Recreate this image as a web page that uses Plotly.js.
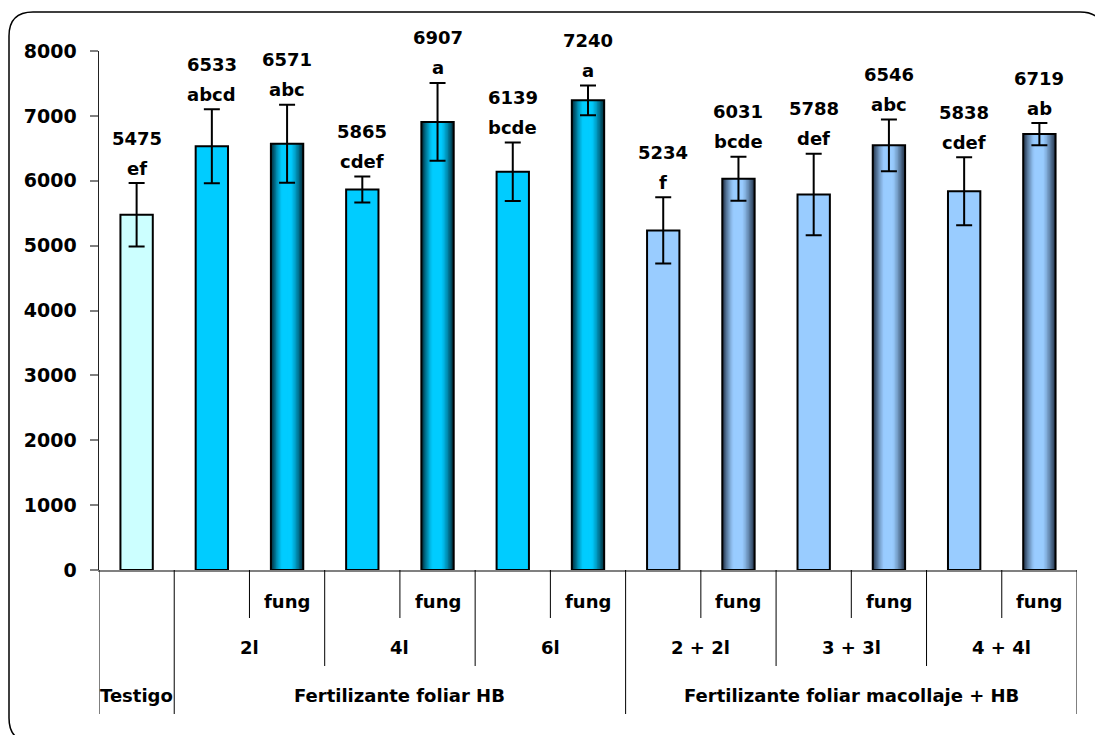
<!DOCTYPE html>
<html>
<head>
<meta charset="utf-8">
<script src="https://cdn.plot.ly/plotly-3.0.1.min.js"></script>
<style>html,body{margin:0;padding:0;background:#fff;}#chart{width:1095px;height:735px;}</style>
</head>
<body>
<div id="chart"></div>
<script>
// ---- data ----
const level1 = ['', '', 'fung', '', 'fung', '', 'fung', '', 'fung', '', 'fung', '', 'fung'];
const level2 = ['', '2l', '2l', '4l', '4l', '6l', '6l', '2 + 2l', '2 + 2l', '3 + 3l', '3 + 3l', '4 + 4l', '4 + 4l'];
const level3 = ['Testigo',
  'Fertilizante foliar HB', 'Fertilizante foliar HB', 'Fertilizante foliar HB',
  'Fertilizante foliar HB', 'Fertilizante foliar HB', 'Fertilizante foliar HB',
  'Fertilizante foliar macollaje + HB', 'Fertilizante foliar macollaje + HB', 'Fertilizante foliar macollaje + HB',
  'Fertilizante foliar macollaje + HB', 'Fertilizante foliar macollaje + HB', 'Fertilizante foliar macollaje + HB'];
const values = [5475, 6533, 6571, 5865, 6907, 6139, 7240, 5234, 6031, 5788, 6546, 5838, 6719];
const errors = [490, 570, 600, 200, 600, 450, 230, 510, 340, 630, 400, 525, 170];
const letters = ['ef', 'abcd', 'abc', 'cdef', 'a', 'bcde', 'a', 'f', 'bcde', 'def', 'abc', 'cdef', 'ab'];
const yTicks = [0, 1000, 2000, 3000, 4000, 5000, 6000, 7000, 8000];

// ---- styling ----
const FONT = {family: 'DejaVu Sans, Arial, sans-serif', size: 18, color: '#000', weight: 'bold'};
const TICKFONT = {family: 'DejaVu Sans, Arial, sans-serif', size: 19, color: '#000', weight: 'bold'};
const BW = 0.43;
const idx = values.map((v, i) => i);
const n = values.length;

// plot-area pixel geometry (for paper conversions)
const L = 99, R = 18, T = 51, B = 165, W = 1095, H = 735;
const PW = W - L - R, PH = H - T - B;
const px2x = px => (px - L) / PW;
const py2y = py => (H - B - py) / PH;

function hex2rgb(h) { h = h.replace('#', ''); return [0, 2, 4].map(k => parseInt(h.substr(k, 2), 16)); }
function mix(a, b, t) { const A = hex2rgb(a), Bc = hex2rgb(b); return 'rgb(' + A.map((v, k) => Math.round(v + (Bc[k] - v) * t)).join(',') + ')'; }

function palette(i) {
  const macollaje = level3[i].indexOf('macollaje') >= 0;
  if (level3[i] === 'Testigo') return {solid: '#CCFFFF'};
  const center = macollaje ? '#99CCFF' : '#00CCFF';
  const edge = macollaje ? '#26374f' : '#00303f';
  if (level1[i] === 'fung') return {grad: [edge, center]};
  return {solid: center};
}

const traces = [];
// solid bars
const solidX = [], solidY = [], solidC = [];
idx.forEach(i => { const p = palette(i); if (p.solid) { solidX.push(i); solidY.push(values[i]); solidC.push(p.solid); } });
traces.push({type: 'bar', x: solidX, y: solidY, width: BW, marker: {color: solidC, line: {width: 0}}, hoverinfo: 'skip', showlegend: false});

// gradient bars built from stripes
const NS = 12;
for (let s = 0; s < NS; s++) {
  const d = 1 - s / NS;          // relative half-width
  const w = BW * d;
  const t = Math.pow(Math.max(0, (d - 0.3) / 0.7), 1.3); // darkness
  const gx = [], gy = [], gc = [];
  idx.forEach(i => { const p = palette(i); if (p.grad) { gx.push(i - 0.012 * (1 - d)); gy.push(values[i]); gc.push(mix(p.grad[1], p.grad[0], t)); } });
  traces.push({type: 'bar', x: gx, y: gy, width: w, marker: {color: gc, line: {width: 0}}, hoverinfo: 'skip', showlegend: false});
}

// outlines + error bars
traces.push({type: 'bar', x: idx, y: values, width: BW,
  marker: {color: 'rgba(0,0,0,0)', line: {color: '#000', width: 2}},
  error_y: {type: 'data', array: errors, visible: true, color: '#000', thickness: 2, width: 8},
  hoverinfo: 'x+y', showlegend: false});

// ---- annotations ----
const annotations = [];
idx.forEach(i => {
  annotations.push({x: i, y: values[i] + errors[i], xref: 'x', yref: 'y', text: letters[i], showarrow: false,
    yanchor: 'middle', yshift: 15, font: FONT});
  annotations.push({x: i, y: values[i] + errors[i], xref: 'x', yref: 'y', text: String(values[i]), showarrow: false,
    yanchor: 'middle', yshift: 45, font: FONT});
});

// hierarchical category labels + separators
const rowY = [py2y(601), py2y(647), py2y(695)];
const lineEnd = [py2y(618), py2y(666), py2y(714)];
const levels = [level1, level2, level3];
levels.forEach((lev, r) => {
  let start = 0;
  for (let i = 1; i <= n; i++) {
    const changed = i === n || lev[i] !== lev[start] || (r < 2 && levels[r + 1][i] !== levels[r + 1][start]) || (r < 1 && levels[2][i] !== levels[2][start]);
    if (changed) {
      if (lev[start] !== '') {
        annotations.push({x: (start + i - 1) / 2, y: rowY[r], xref: 'x', yref: 'paper', text: lev[start],
          showarrow: false, yanchor: 'middle', font: FONT});
      }
      start = i;
    }
  }
});

const shapes = [];
for (let b = 0; b <= n; b++) {
  let depth;
  if (b === 0 || b === n || level3[b] !== level3[b - 1]) depth = 2;
  else if (level2[b] !== level2[b - 1]) depth = 1;
  else depth = 0;
  shapes.push({type: 'line', xref: 'x', yref: 'paper', x0: b - 0.5, x1: b - 0.5, y0: 0, y1: lineEnd[depth],
    line: {color: '#000', width: 1}});
}

// outer rounded frame
(function () {
  const l = 9, t = 12, r = 1104, bt = 742, rad = 24;
  const X = px2x, Y = py2y;
  const p = 'M ' + X(l + rad) + ',' + Y(t) +
    ' L ' + X(r - rad) + ',' + Y(t) +
    ' Q ' + X(r) + ',' + Y(t) + ' ' + X(r) + ',' + Y(t + rad) +
    ' L ' + X(r) + ',' + Y(bt - rad) +
    ' Q ' + X(r) + ',' + Y(bt) + ' ' + X(r - rad) + ',' + Y(bt) +
    ' L ' + X(l + rad) + ',' + Y(bt) +
    ' Q ' + X(l) + ',' + Y(bt) + ' ' + X(l) + ',' + Y(bt - rad) +
    ' L ' + X(l) + ',' + Y(t + rad) +
    ' Q ' + X(l) + ',' + Y(t) + ' ' + X(l + rad) + ',' + Y(t) + ' Z';
  shapes.push({type: 'path', xref: 'paper', yref: 'paper', path: p, line: {color: '#000', width: 1.5}, fillcolor: 'rgba(0,0,0,0)', layer: 'below'});
})();

const layout = {
  width: W, height: H,
  margin: {l: L, r: R, t: T, b: B, pad: 0},
  paper_bgcolor: '#fff', plot_bgcolor: '#fff',
  barmode: 'overlay',
  showlegend: false,
  xaxis: {range: [-0.5, n - 0.5], showticklabels: false, ticks: '', showgrid: false, zeroline: false,
    showline: true, linecolor: '#808080', linewidth: 2, fixedrange: true},
  yaxis: {range: [0, 8000], tickvals: yTicks, ticktext: yTicks.map(String), ticks: 'outside', ticklen: 8,
    tickcolor: '#808080', tickwidth: 2, showgrid: false, zeroline: false, showline: true,
    linecolor: '#222', linewidth: 1.5, tickfont: TICKFONT, ticklabelstandoff: 9, fixedrange: true},
  annotations: annotations,
  shapes: shapes,
  font: FONT
};

Plotly.newPlot('chart', traces, layout, {displayModeBar: false, staticPlot: true});
</script>
</body>
</html>
